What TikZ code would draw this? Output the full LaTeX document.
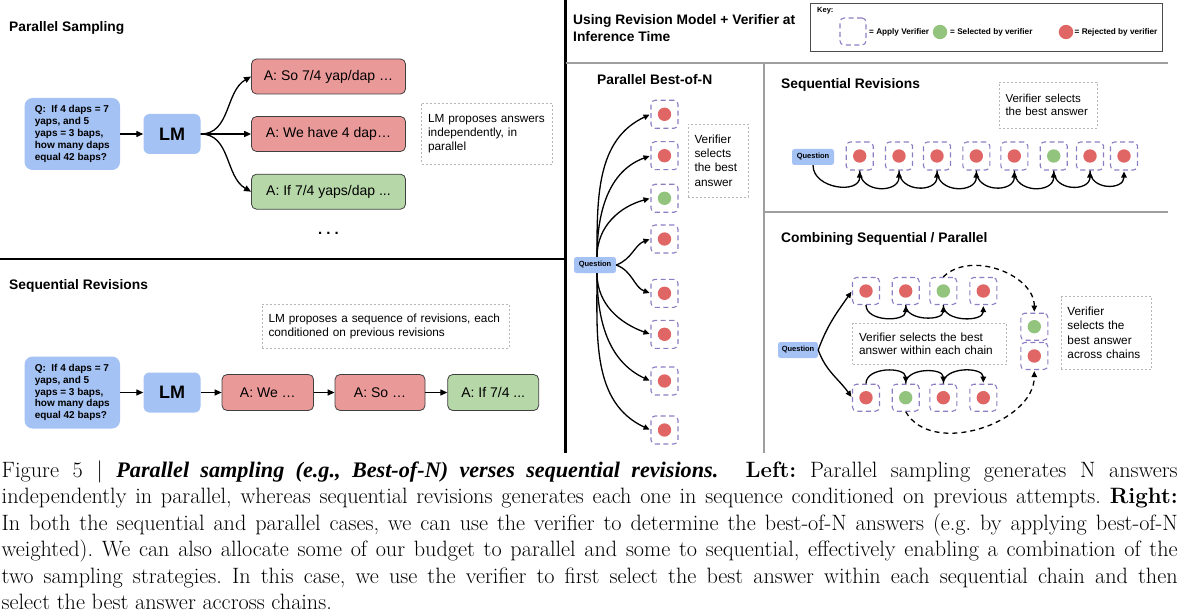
\documentclass[tikz,border=0pt]{standalone}
\usepackage{fontspec}
\setsansfont{Liberation Sans}
\newfontfamily\biff{Liberation Serif}
\usetikzlibrary{arrows.meta,calc}
\definecolor{qblue}{HTML}{A4C2F4}
\definecolor{ansred}{HTML}{EA9999}
\definecolor{ansgreen}{HTML}{B6D7A8}
\definecolor{dotred}{HTML}{E06666}
\definecolor{dotgreen}{HTML}{93C47D}
\definecolor{vpurple}{HTML}{8E7CC3}
\definecolor{notegray}{HTML}{B7B7B7}
\definecolor{divgray}{HTML}{9E9E9E}
\newcommand{\fsz}[2]{\fontsize{#1pt}{#2pt}\selectfont}
\begin{document}
\frenchspacing
\begin{tikzpicture}[x=1pt,y=-1pt,
 ttl/.style={font=\sffamily\bfseries\fsz{13.8}{16}, anchor=base west, inner sep=0},
 qbig/.style={fill=qblue, rounded corners=8pt, minimum width=95.5pt, minimum height=72pt, inner sep=0, align=left, font=\sffamily\bfseries\fsz{10}{11.8}},
 lmbox/.style={fill=qblue, rounded corners=6pt, minimum width=57pt, minimum height=40pt, inner sep=0, font=\sffamily\bfseries\fsz{18}{20}},
 ansbox/.style={draw=black!75, line width=0.8pt, rounded corners=5pt, minimum height=35pt, inner sep=0, font=\sffamily\fsz{14}{16}},
 note/.style={draw=notegray, dash pattern=on 2pt off 2pt, line width=0.8pt, inner xsep=6.5pt, inner ysep=0pt, align=left, font=\sffamily\fsz{11.8}{14}},
 qsmall/.style={fill=qblue, rounded corners=2.5pt, minimum width=42pt, minimum height=16pt, inner sep=0, font=\sffamily\bfseries\fsz{7.5}{8}},
 vsq/.style={draw=vpurple, dash pattern=on 5pt off 3.5pt, line width=1.1pt, rounded corners=4pt, minimum width=27pt, minimum height=28pt, inner sep=0},
 arr/.style={-{Triangle[length=7pt,width=6pt]}, line width=1.3pt},
 sarr/.style={-{Triangle[length=6pt,width=5.5pt]}, line width=1.3pt, shorten >=1pt},
 darr/.style={sarr, dash pattern=on 5pt off 4pt},
 keyt/.style={font=\sffamily\bfseries\fsz{8.2}{9}, anchor=west, inner sep=0},
 capl/.style={anchor=base west, inner sep=0, font=\rmfamily\fsz{22.2}{26}},
]
\useasboundingbox (0,0) rectangle (1179,615);

% ---------- dividers ----------
\draw[line width=2.8pt] (0,259) -- (565.5,259);
\draw[line width=2.7pt] (565.5,0) -- (565.5,453);
\draw[divgray, line width=2pt] (565.5,63.5) -- (1168,63.5);
\draw[divgray, line width=1.6pt] (764,63.5) -- (764,453);
\draw[divgray, line width=2pt] (764,212) -- (1168,212);

% ---------- left: parallel sampling ----------
\node[ttl] (t1) at (9,31.5) {Parallel Sampling};
\node[qbig] (q1) at (72.3,134) {Q:\ \ If 4 daps = 7\\yaps, and 5\\yaps = 3 baps,\\how many daps\\equal 42 baps?};
\node[lmbox] (lm1) at (172,134) {LM};
\node[ansbox, fill=ansred, minimum width=154pt] (a1) at (328.5,76.5) {A: So 7/4 yap/dap …};
\node[ansbox, fill=ansred, minimum width=154pt] (a2) at (328.5,134) {A: We have 4 dap…};
\node[ansbox, fill=ansgreen, minimum width=154pt] (a3) at (328.5,191.7) {A: If 7/4 yaps/dap ...};
\node[font=\sffamily\bfseries\fsz{15}{16}, inner sep=0] (dots) at (328.5,233) {. . .};
\node[note, text width=117.8pt, minimum height=61pt] (n1) at (487,133.5) {LM proposes answers\\independently, in\\parallel};
\draw[arr] (q1) -- (lm1);
\draw[arr] (lm1.east) to[out=0,in=210] (a1.west);
\draw[arr] (lm1.east) -- (a2.west);
\draw[arr] (lm1.east) to[out=0,in=150] (a3.west);

% ---------- left: sequential revisions ----------
\node[ttl] (t2) at (9,289.5) {Sequential Revisions};
\node[note, text width=234pt, minimum height=44pt] (n2) at (385.5,326) {LM proposes a sequence of revisions, each\\conditioned on previous revisions};
\node[qbig] (q2) at (72.3,392.5) {Q:\ \ If 4 daps = 7\\yaps, and 5\\yaps = 3 baps,\\how many daps\\equal 42 baps?};
\node[lmbox] (lm2) at (172,392.5) {LM};
\node[ansbox, fill=ansred, minimum width=91.5pt, minimum height=36pt] (b1) at (267.8,392.5) {A: We …};
\node[ansbox, fill=ansred, minimum width=90pt, minimum height=36pt] (b2) at (380,392.5) {A: So …};
\node[ansbox, fill=ansgreen, minimum width=91pt, minimum height=36pt] (b3) at (493.2,392.5) {A: If 7/4 ...};
\draw[arr] (q2) -- (lm2);
\draw[arr] (lm2) -- (b1);
\draw[arr] (b1) -- (b2);
\draw[arr] (b2) -- (b3);

% ---------- right header ----------
\node[ttl] (rt1) at (573,25) {Using Revision Model + Verifier at};
\node[ttl] (rt2) at (573,41.5) {Inference Time};
\node[draw=black!70, line width=0.9pt, minimum width=351.5pt, minimum height=48pt, inner sep=0] (key) at (986.25,27) {};
\node[font=\sffamily\bfseries\fsz{7.5}{8}, anchor=base west, inner sep=0] (keyl) at (817,12.5) {Key:};
\node[vsq, minimum width=26pt, minimum height=27pt] (k1) at (853,31.5) {};
\node[keyt] (k1t) at (869,32) {= Apply Verifier};
\fill[dotgreen] (940,32) circle (7.2);
\node[keyt] (k2t) at (950,32) {= Selected by verifier};
\fill[dotred] (1066,32) circle (7.2);
\node[keyt] (k3t) at (1074.5,32) {= Rejected by verifier};

% ---------- parallel best-of-N ----------
\node[ttl] (t3) at (597,85) {Parallel Best-of-N};
\foreach \i/\y/\c in {1/114.3/dotred,2/155.7/dotred,3/198.3/dotgreen,4/239/dotred,5/293.3/dotred,6/334.3/dotred,7/381/dotred,8/430/dotred}{
  \node[vsq] (pb\i) at (664.5,\y) {};
  \fill[\c] (pb\i) circle (6.7);
}
\node[qsmall] (pq) at (595,265) {Question};
\coordinate (pqn) at ($(pq.north)+(2,0)$);
\coordinate (pqs) at ($(pq.south)+(2,0)$);
\draw[sarr] (pqn) to[out=90,in=205] (pb1.west);
\draw[sarr] (pqn) to[out=90,in=200] (pb2.west);
\draw[sarr] (pqn) to[out=90,in=195] (pb3.west);
\draw[sarr] (pq.east) to[out=20,in=200] (pb4.west);
\draw[sarr] (pq.east) to[out=-20,in=160] (pb5.west);
\draw[sarr] (pqs) to[out=-90,in=160] (pb6.west);
\draw[sarr] (pqs) to[out=-90,in=155] (pb7.west);
\draw[sarr] (pqs) to[out=-90,in=155] (pb8.west);
\node[note, text width=47pt, minimum height=73pt, font=\sffamily\fsz{11.8}{14.3}] (n3) at (718,160.5) {Verifier\\selects\\the best\\answer};

% ---------- sequential revisions (right) ----------
\node[ttl] (t4) at (781,89) {Sequential Revisions};
\node[note, text width=85pt, minimum height=46pt, font=\sffamily\fsz{11.5}{13.3}] (n4) at (1048,105) {Verifier selects\\the best answer};
\node[qsmall] (srq) at (813,157) {Question};
\foreach \i/\x/\c in {1/859.7/dotred,2/899/dotred,3/937/dotred,4/976.3/dotred,5/1014.3/dotred,6/1053.7/dotgreen,7/1090/dotred,8/1124/dotred}{
  \node[vsq] (sr\i) at (\x,156) {};
  \fill[\c] (sr\i) circle (6.7);
}
\draw[sarr] (srq.south) to[out=-90,in=-90,looseness=1.3] (sr1.south);
\foreach \i/\j in {1/2,2/3,3/4,4/5,5/6,6/7,7/8}{
  \draw[sarr] (sr\i.south) to[out=-90,in=-90,looseness=1.5] (sr\j.south);
}

% ---------- combining ----------
\node[ttl] (t5) at (781,242.3) {Combining Sequential / Parallel};
\node[qsmall, minimum width=40pt] (cq) at (798,350) {Question};
\foreach \i/\x/\c in {1/866/dotred,2/905.7/dotred,3/943.3/dotgreen,4/983.3/dotred}{
  \node[vsq, minimum height=27pt] (ct\i) at (\x,291) {};
  \fill[\c] (ct\i) circle (6.7);
}
\foreach \i/\x/\c in {1/866/dotred,2/905.7/dotgreen,3/943.3/dotred,4/983.3/dotred}{
  \node[vsq, minimum height=27pt] (cb\i) at (\x,397.7) {};
  \fill[\c] (cb\i) circle (6.7);
}
\node[vsq, minimum height=27pt] (cr1) at (1034.3,326.7) {};
\fill[dotgreen] (cr1) circle (6.7);
\node[vsq, minimum height=27pt] (cr2) at (1034.3,356) {};
\fill[dotred] (cr2) circle (6.7);
\draw[sarr] (cq.east) to[out=70,in=235] (ct1.west);
\draw[sarr] (cq.east) to[out=-70,in=125] (cb1.west);
\foreach \i/\j in {1/2,2/3,3/4}{
  \draw[sarr] (ct\i.south) to[out=-90,in=-90,looseness=1.1] (ct\j.south);
  \draw[sarr] (cb\i.north) to[out=90,in=90,looseness=1.1] (cb\j.north);
}
\draw[darr] (ct3.north) to[out=45,in=90] (cr1.north);
\draw[darr] (cb2.south) to[out=-60,in=-90] (cr2.south);
\node[note, text width=141pt, minimum height=40.7pt, font=\sffamily\fsz{11.8}{13.3}] (n5) at (929.5,343.7) {Verifier selects the best\\answer within each chain};
\node[note, text width=77.7pt, minimum height=72.3pt, font=\sffamily\fsz{11.8}{14.2}] (n6) at (1106.3,332.8) {Verifier\\selects the\\best answer\\across chains};

% ---------- caption ----------
\node[capl] (c1) at (1.5,477) {\makebox[1176pt][s]{Figure 5 | {\biff\bfseries\itshape Parallel sampling (e.g., Best-of-N) verses sequential revisions.}\ \ \textbf{Left:} Parallel sampling generates N answers}};
\node[capl] (c2) at (1.5,503.5) {\makebox[1176pt][s]{independently in parallel, whereas sequential revisions generates each one in sequence conditioned on previous attempts. \textbf{Right:}}};
\node[capl] (c3) at (1.5,530) {\makebox[1176pt][s]{In both the sequential and parallel cases, we can use the verifier to determine the best-of-N answers (e.g. by applying best-of-N}};
\node[capl] (c4) at (1.5,556.5) {\makebox[1176pt][s]{weighted). We can also allocate some of our budget to parallel and some to sequential, effectively enabling a combination of the}};
\node[capl] (c5) at (1.5,583) {\makebox[1176pt][s]{two sampling strategies. In this case, we use the verifier to first select the best answer within each sequential chain and then}};
\node[capl] (c6) at (1.5,609.5) {select the best answer accross chains.};
\end{tikzpicture}
\end{document}
